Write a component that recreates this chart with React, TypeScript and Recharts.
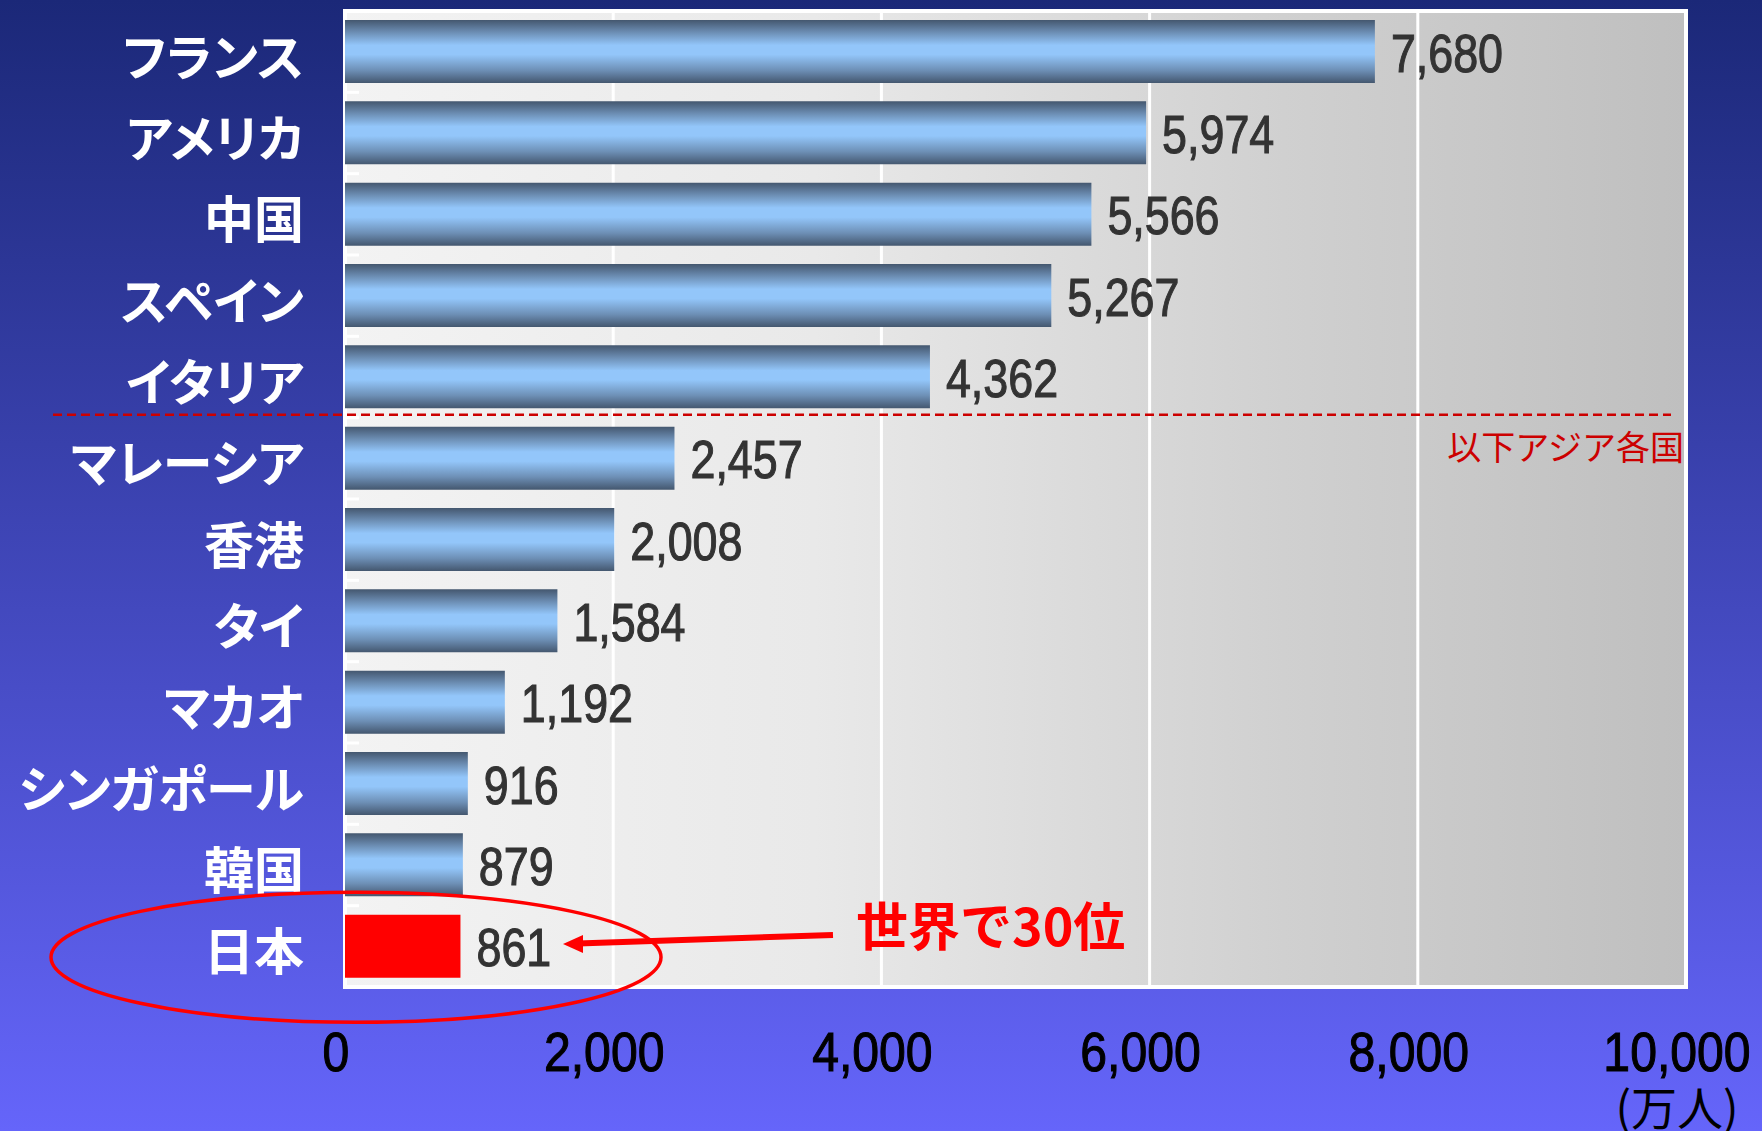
import React from 'react';
import { BarChart, Bar, XAxis, YAxis, CartesianGrid, Cell, LabelList, ReferenceArea } from 'recharts';

const countries = ['フランス', 'アメリカ', '中国', 'スペイン', 'イタリア', 'マレーシア', '香港', 'タイ', 'マカオ', 'シンガポール', '韓国', '日本'];
const visitors = [7680, 5974, 5566, 5267, 4362, 2457, 2008, 1584, 1192, 916, 879, 861];
const xTicks = [0, 2000, 4000, 6000, 8000, 10000];
const highlightCountry = '日本';
const unitLabel = '(万人)';
const asiaNote = '以下アジア各国';
const rankNote = '世界で30位';
const asiaStartIndex = 5;

const data = countries.map((name, i) => ({ name, value: visitors[i] }));

const W = 1762;
const H = 1131;
const PLOT_LEFT = 345;
const PLOT_RIGHT = 1686;
const PLOT_TOP = 11;
const PLOT_BOTTOM = 987;
const BAND = (PLOT_BOTTOM - PLOT_TOP) / countries.length;

const JP_FONT = '"Noto Sans CJK JP", "Noto Sans", sans-serif';
const NUM_FONT = '"Liberation Sans", Arial, sans-serif';

const YTick = (props: any) => {
  const { x, y, payload, index } = props;
  return (
    <g>
      <text
        x={x - 41}
        y={y}
        dy={2}
        textAnchor="end"
        dominantBaseline="central"
        fill="#ffffff"
        fontSize={50}
        fontWeight={700}
        fontFamily={JP_FONT}
        style={{ fontFeatureSettings: '"palt" 1' }}
      >
        {payload.value}
      </text>
      {index < countries.length - 1 ? (
        <line x1={PLOT_LEFT + 2} x2={PLOT_LEFT + 14} y1={y + BAND / 2} y2={y + BAND / 2} stroke="#ffffff" strokeWidth={3} />
      ) : null}
    </g>
  );
};

const XTick = (props: any) => {
  const { x, y, payload } = props;
  const isLast = payload.value === xTicks[xTicks.length - 1];
  return (
    <g>
      <g transform={`translate(${x - 9}, ${y + 84}) scale(0.86, 1)`}>
        <text
          x={0}
          y={0}
          textAnchor="middle"
          fill="#000000"
          stroke="#000000"
          strokeWidth={1.1}
          fontSize={56}
          fontFamily={NUM_FONT}
        >
          {payload.value.toLocaleString('en-US')}
        </text>
      </g>
      {isLast ? (
        <text x={x - 9} y={y + 138} textAnchor="middle" fill="#000000" fontSize={46} fontFamily={JP_FONT}>
          {unitLabel}
        </text>
      ) : null}
    </g>
  );
};

const ValueLabel = (props: any) => {
  const { x, y, width, height, value } = props;
  const tx = x + width + 16;
  const ty = y + height / 2 + 20;
  return (
    <g transform={`translate(${tx}, ${ty}) scale(0.83, 1)`}>
      <text
        x={0}
        y={0}
        textAnchor="start"
        fill="#333333"
        stroke="#333333"
        strokeWidth={1.1}
        fontSize={54}
        fontFamily={NUM_FONT}
      >
        {Number(value).toLocaleString('en-US')}
      </text>
    </g>
  );
};

export default function App() {
  const dashY = PLOT_TOP + asiaStartIndex * BAND - 3;
  const japanCy = PLOT_TOP + (countries.length - 0.5) * BAND + 11;
  return (
    <div
      style={{
        position: 'absolute',
        left: 0,
        top: 0,
        width: W,
        height: H,
        overflow: 'hidden',
        background: 'linear-gradient(180deg, #1b2878 0%, #6565fa 100%)',
      }}
    >
      <BarChart
        width={W}
        height={H}
        data={data}
        layout="vertical"
        barSize={63}
        margin={{ top: PLOT_TOP, right: W - PLOT_RIGHT, bottom: 0, left: 0 }}
      >
        <defs>
          <linearGradient id="plotBg" x1="0" y1="0" x2="1" y2="0">
            <stop offset="0%" stopColor="#f3f3f3" />
            <stop offset="35%" stopColor="#e9e9e9" />
            <stop offset="70%" stopColor="#d0d0d0" />
            <stop offset="100%" stopColor="#bfbfbf" />
          </linearGradient>
          <linearGradient id="barGrad" x1="0" y1="0" x2="0" y2="1">
            <stop offset="0%" stopColor="#44576f" />
            <stop offset="20%" stopColor="#6d8fb5" />
            <stop offset="40%" stopColor="#93c6fa" />
            <stop offset="55%" stopColor="#93c6fa" />
            <stop offset="80%" stopColor="#6d8fb5" />
            <stop offset="100%" stopColor="#44576f" />
          </linearGradient>
        </defs>
        <CartesianGrid horizontal={false} vertical fill="url(#plotBg)" fillOpacity={1} stroke="#ffffff" strokeWidth={3} />
        <XAxis
          type="number"
          domain={[0, 10000]}
          ticks={xTicks}
          interval={0}
          axisLine={false}
          tickLine={false}
          tickSize={0}
          tickMargin={0}
          height={H - PLOT_BOTTOM}
          tick={<XTick />}
        />
        <YAxis
          type="category"
          dataKey="name"
          width={PLOT_LEFT}
          axisLine={false}
          tickLine={false}
          tickSize={0}
          tickMargin={0}
          interval={0}
          tick={<YTick />}
        />
        <ReferenceArea x1={0} x2={10000} fill="none" stroke="#ffffff" strokeWidth={4} ifOverflow="visible" />
        <Bar dataKey="value" isAnimationActive={false} fill="url(#barGrad)">
          {data.map((d) => (
            <Cell key={d.name} fill={d.name === highlightCountry ? '#ff0000' : 'url(#barGrad)'} />
          ))}
          <LabelList dataKey="value" content={<ValueLabel />} />
        </Bar>
      </BarChart>
      <svg
        width={W}
        height={H}
        style={{ position: 'absolute', left: 0, top: 0, pointerEvents: 'none' }}
      >
        <line x1={53} x2={1671} y1={dashY} y2={dashY} stroke="#cc0000" strokeWidth={2.5} strokeDasharray="9 5" />
        <text x={1684} y={460} textAnchor="end" fill="#cc0000" fontSize={34} fontFamily={JP_FONT}>
          {asiaNote}
        </text>
        <ellipse cx={356} cy={japanCy} rx={305} ry={65} fill="none" stroke="#ff0000" strokeWidth={3.5} />
        <line x1={833} y1={935} x2={578} y2={943.5} stroke="#ff0000" strokeWidth={6} />
        <polygon points="563,944 583,935 583,953" fill="#ff0000" />
        <text x={856} y={946} fill="#ff0000" fontSize={52} fontWeight={700} fontFamily={JP_FONT}>
          {rankNote}
        </text>
      </svg>
    </div>
  );
}
